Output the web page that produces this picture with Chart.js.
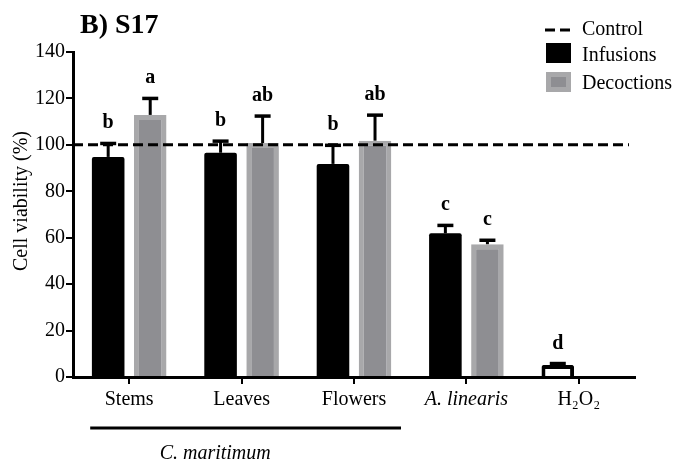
<!DOCTYPE html>
<html>
<head>
<meta charset="utf-8">
<script src="https://cdn.jsdelivr.net/npm/chart.js@4/dist/chart.umd.min.js"></script>
<style>
html,body{margin:0;padding:0;background:#fff;}
#wrap{width:694px;height:468px;position:relative;}
</style>
</head>
<body>
<div id="wrap"><canvas id="c" width="694" height="468"></canvas></div>
<script>
// ---- data ----
const categories = ['Stems', 'Leaves', 'Flowers', 'A. linearis', 'H\u2082O\u2082'];
const infusions = [94.8, 96.6, 91.8, 61.9, 5.2];
const infusionsErr = [5.8, 5.0, 8.0, 3.4, 0.6];
const decoctions = [112.9, 100.8, 101.8, 57.2, null];
const decoctionsErr = [7.1, 11.6, 11.0, 1.7, null];
const infusionLetters = ['b', 'b', 'b', 'c', 'd'];
const decoctionLetters = ['a', 'ab', 'ab', 'c', ''];
const controlValue = 100;
const yMin = 0, yMax = 140, yStep = 20;
const titleText = 'B) S17';
const yTitle = 'Cell viability (%)';
const groupLabel = 'C. maritimum';
const legendLabels = ['Control', 'Infusions', 'Decoctions'];

const SERIF = "'Liberation Serif', 'Times New Roman', serif";
const infColors = categories.map((c, i) => i === categories.length - 1 ? '#ffffff' : '#000000');
const infBorders = categories.map(() => '#000000');
const infBorderW = categories.map((c, i) => i === categories.length - 1 ? 4 : 0);

const overlay = {
  id: 'overlay',
  afterDatasetsDraw(chart) {
    const ctx = chart.ctx;
    const y = chart.scales.y;
    const area = chart.chartArea;
    ctx.save();
    // control dashed line
    ctx.strokeStyle = '#000';
    ctx.lineWidth = 3;
    ctx.setLineDash([10, 5]);
    const yc = y.getPixelForValue(controlValue);
    ctx.beginPath();
    ctx.moveTo(area.left, yc);
    ctx.lineTo(area.right - 6, yc);
    ctx.stroke();
    ctx.setLineDash([]);
    // error bars + letters
    const sets = [[infusions, infusionsErr, infusionLetters], [decoctions, decoctionsErr, decoctionLetters]];
    sets.forEach((s, di) => {
      const meta = chart.getDatasetMeta(di);
      s[0].forEach((v, i) => {
        if (v === null) return;
        const el = meta.data[i];
        const bx = el.x;
        const top = y.getPixelForValue(v);
        const cap = y.getPixelForValue(v + s[1][i]);
        ctx.strokeStyle = '#000';
        ctx.lineWidth = 3;
        ctx.beginPath();
        ctx.moveTo(bx, top);
        ctx.lineTo(bx, cap);
        ctx.stroke();
        ctx.lineWidth = 3.5;
        ctx.beginPath();
        ctx.moveTo(bx - 8, cap);
        ctx.lineTo(bx + 8, cap);
        ctx.stroke();
        ctx.fillStyle = '#000';
        ctx.font = 'bold 20px ' + SERIF;
        ctx.textAlign = 'center';
        ctx.textBaseline = 'alphabetic';
        ctx.fillText(s[2][i], bx, cap - 15);
      });
    });
    ctx.restore();
  },
  afterDraw(chart) {
    const ctx = chart.ctx;
    const x = chart.scales.x;
    ctx.save();
    ctx.fillStyle = '#000';
    // title
    ctx.font = 'bold 28px ' + SERIF;
    ctx.textAlign = 'left';
    ctx.textBaseline = 'alphabetic';
    ctx.fillText(titleText, 80, 33);
    // y title
    ctx.save();
    ctx.translate(27, 201);
    ctx.rotate(-Math.PI / 2);
    ctx.font = '20px ' + SERIF;
    ctx.textAlign = 'center';
    ctx.fillText(yTitle, 0, 0);
    ctx.restore();
    // group underline
    const x0 = x.getPixelForValue(0), x2 = x.getPixelForValue(2);
    ctx.strokeStyle = '#000';
    ctx.lineWidth = 3;
    ctx.beginPath();
    ctx.moveTo(x0 - 39, 428);
    ctx.lineTo(x2 + 47, 428);
    ctx.stroke();
    ctx.font = 'italic 20px ' + SERIF;
    ctx.textAlign = 'center';
    ctx.fillText(groupLabel, x0 + 86, 459);
    // legend
    ctx.textAlign = 'left';
    ctx.font = '20px ' + SERIF;
    ctx.lineWidth = 3;
    ctx.setLineDash([10, 5]);
    ctx.beginPath();
    ctx.moveTo(545, 30);
    ctx.lineTo(571, 30);
    ctx.stroke();
    ctx.setLineDash([]);
    ctx.fillText(legendLabels[0], 582, 35);
    ctx.fillStyle = '#000';
    ctx.fillRect(546, 43, 25, 20);
    ctx.fillText(legendLabels[1], 582, 61);
    ctx.fillStyle = '#a8a8aa';
    ctx.fillRect(546, 72, 25, 20);
    ctx.fillStyle = '#8e8e92';
    ctx.fillRect(551, 77, 15, 10);
    ctx.fillStyle = '#000';
    ctx.fillText(legendLabels[2], 582, 89);
    ctx.restore();
  }
};

new Chart(document.getElementById('c'), {
  type: 'bar',
  data: {
    labels: categories,
    datasets: [
      {
        label: legendLabels[1],
        data: infusions,
        backgroundColor: infColors,
        borderColor: infBorders,
        borderWidth: infBorderW,
        borderSkipped: 'start',
        borderRadius: 2,
        categoryPercentage: 0.748,
        barPercentage: 0.775
      },
      {
        label: legendLabels[2],
        data: decoctions,
        backgroundColor: '#8e8e92',
        borderColor: '#a8a8aa',
        borderWidth: 5,
        borderSkipped: 'start',
        categoryPercentage: 0.748,
        barPercentage: 0.775
      }
    ]
  },
  options: {
    responsive: false,
    animation: false,
    layout: { padding: { top: 52, right: 59, left: 0, bottom: 0 } },
    plugins: {
      legend: { display: false },
      tooltip: { enabled: false },
      title: { display: false }
    },
    scales: {
      x: {
        offset: true,
        afterFit: (s) => { s.height = 91; },
        border: { color: '#000', width: 3 },
        grid: { offset: false, drawOnChartArea: false, color: '#000', lineWidth: 2, tickLength: 7 },
        ticks: {
          color: '#000',
          padding: 4,
          maxRotation: 0,
          autoSkip: false,
          font: (c) => ({ family: SERIF, size: 20, style: c.index === 3 ? 'italic' : 'normal' })
        }
      },
      y: {
        min: yMin,
        max: yMax,
        afterFit: (s) => { s.width = 73; },
        border: { color: '#000', width: 3 },
        grid: { drawOnChartArea: false, color: '#000', lineWidth: 2, tickLength: 7 },
        ticks: {
          stepSize: yStep,
          color: '#000',
          padding: 1,
          font: { family: SERIF, size: 20 }
        }
      }
    }
  },
  plugins: [overlay]
});
</script>
</body>
</html>
